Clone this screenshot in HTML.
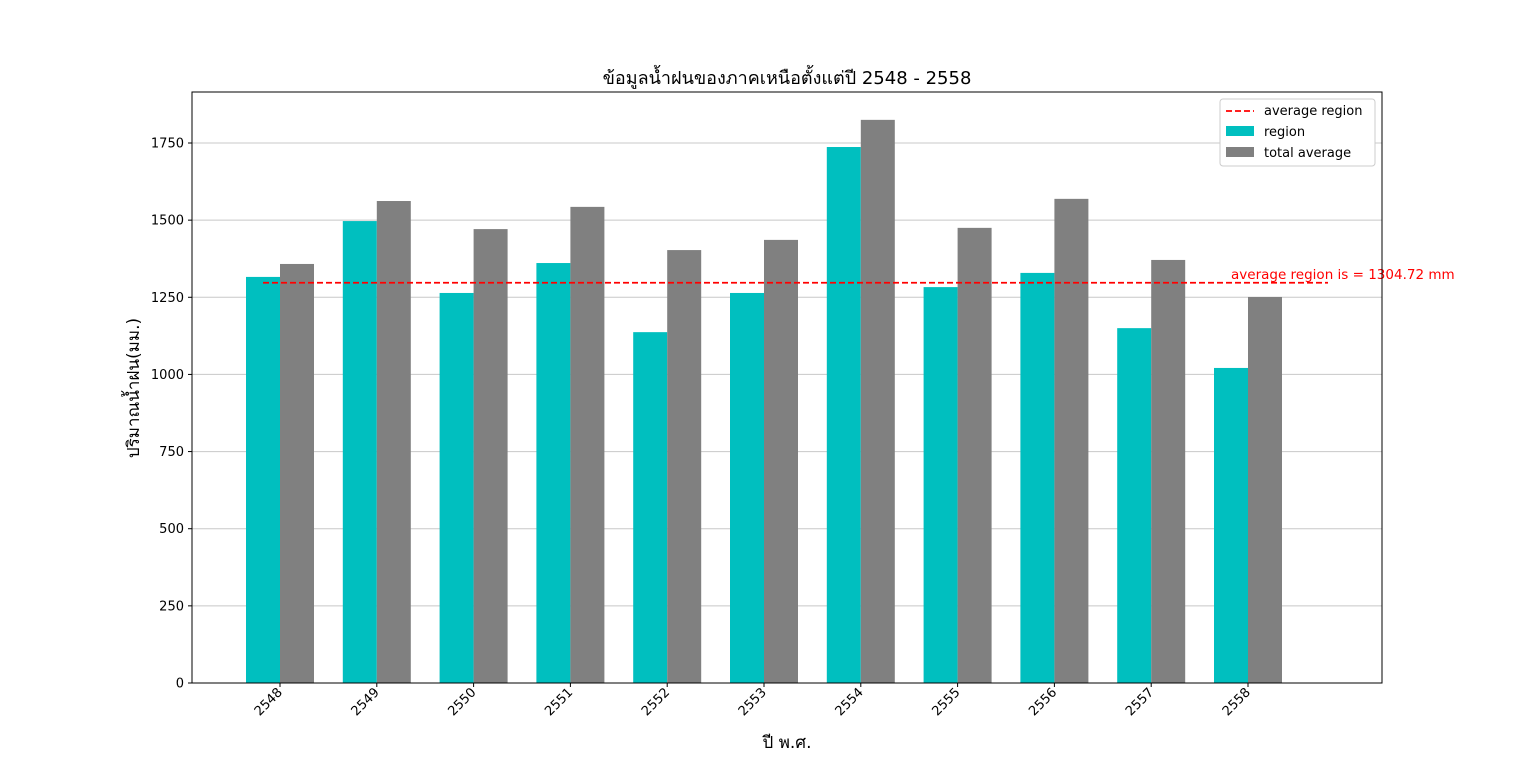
<!DOCTYPE html>
<html><head><meta charset="utf-8"><style>
body{margin:0;background:#fff;}
svg{display:block;font-family:"DejaVu Sans","Liberation Sans","Noto Sans CJK SC",sans-serif;}
</style></head><body>
<svg id="c" width="1536" height="767">
<text x="787" y="84" text-anchor="middle" font-size="18">ข้อมูลน้ำฝนของภาคเหนือตั้งแต่ปี 2548 - 2558</text>
<text transform="translate(139,388) rotate(-90)" text-anchor="middle" font-size="17">ปริมาณน้ำฝน(มม.)</text>
<text x="787" y="748" text-anchor="middle" font-size="17">ปี พ.ศ.</text>
<g id="grid"></g><g id="bars"></g><g id="axes"></g>
</svg>
<script>
const categories=["2548","2549","2550","2551","2552","2553","2554","2555","2556","2557","2558"];
const regionValues=[1316,1497,1264,1361,1137,1264,1737,1283,1329,1150,1021];
const totalValues=[1358,1562,1471,1543,1403,1436,1825,1475,1569,1371,1251];
const yTicks=[0,250,500,750,1000,1250,1500,1750];
const averageValue=1297;
const averageLabel="average region is = 1304.72 mm";
const NS="http://www.w3.org/2000/svg";
const L=192,R=1382,T=92,B=683;
const y=v=>B-v*(540/1750);
const x=i=>280+i*96.8;
const bw=34;
function mk(tag,attrs,parent){const e=document.createElementNS(NS,tag);for(const k in attrs)e.setAttribute(k,attrs[k]);parent.appendChild(e);return e;}
const g=document.getElementById('grid'),b=document.getElementById('bars'),a=document.getElementById('axes');
yTicks.forEach(t=>{
 const l=mk('line',{x1:L,x2:R,y1:y(t),y2:y(t),stroke:'#c8c8c8','stroke-width':1},g);
 
 
 mk('line',{x1:L-4,x2:L,y1:y(t),y2:y(t),stroke:'#000'},a);
 const tx=mk('text',{x:L-8,y:y(t)+4.5,'text-anchor':'end','font-size':13},a);
 tx.textContent=t;
 
 
});
categories.forEach((c,i)=>{
 const r=mk('rect',{x:x(i)-bw,y:y(regionValues[i]),width:bw,height:B-y(regionValues[i]),fill:'#00bfbf'},b);
 
 
 const t=mk('rect',{x:x(i),y:y(totalValues[i]),width:bw,height:B-y(totalValues[i]),fill:'#808080'},b);
 
 
 mk('line',{x1:x(i),x2:x(i),y1:B,y2:B+4,stroke:'#000'},a);
 const tx=mk('text',{transform:`translate(${x(i)+3},${B+10}) rotate(-45)`,'text-anchor':'end','font-size':13},a);
 tx.textContent=c;
 
 
});
const al=mk('line',{x1:x(0)-17,x2:x(10)+80,y1:y(averageValue),y2:y(averageValue),stroke:'#ff0000','stroke-width':1.8,'stroke-dasharray':'6,3'},b);


const at=mk('text',{x:1231,y:y(averageValue)-4,fill:'#ff0000','font-size':13.5},b);
at.textContent=averageLabel;


const fr=mk('rect',{x:L,y:T,width:R-L,height:B-T,fill:'none',stroke:'#000'},a);


const lg=mk('g',{},a);


mk('rect',{x:1220,y:99,width:155,height:67,fill:'#fff',stroke:'#ccc',rx:3},lg);
mk('line',{x1:1226,x2:1254,y1:111,y2:111,stroke:'#ff0000','stroke-width':1.8,'stroke-dasharray':'6,3'},lg);
mk('rect',{x:1226,y:126,width:28,height:10,fill:'#00bfbf'},lg);
mk('rect',{x:1226,y:147,width:28,height:10,fill:'#808080'},lg);
[["average region",115],["region",136],["total average",157]].forEach(([s,yy])=>{
 const t=mk('text',{x:1264,y:yy,'font-size':13},lg);t.textContent=s;
 
 
});
</script>
</body></html>
